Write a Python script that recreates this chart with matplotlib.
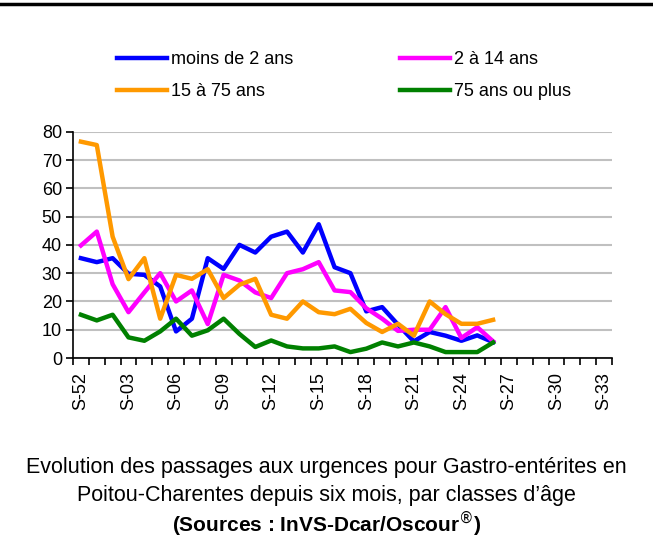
import numpy as np
import matplotlib.pyplot as plt
from matplotlib.lines import Line2D

# weeks S-52, S-01 ... S-33
weeks = [52] + list(range(1, 34))
week_labels = ["S-%02d" % w for w in weeks]

moins_2 = [35.3, 33.9, 35.3, 29.8, 29.4, 25.3, 9.4, 13.9, 35.3, 31.5, 40, 37.3, 42.9, 44.7,
           37.3, 47.3, 32.1, 30, 16.5, 18, 11.8, 5.9, 9.2, 7.9, 6.1, 8, 5.6]
de_2_14 = [39.8, 44.7, 26.1, 16.2, 23.2, 30, 20, 23.9, 12, 29.4, 27.4, 23.2, 21.2, 30,
           31.4, 33.9, 23.9, 23.3, 17.6, 13.9, 9.6, 10, 10, 18, 7.1, 10.9, 5.9]
de_15_75 = [76.5, 75.3, 42.9, 27.9, 35.3, 13.9, 29.4, 28, 31.4, 21.2, 25.9, 28, 15.3, 13.9,
            20, 16.2, 15.5, 17.4, 12.4, 9.2, 12.1, 7.9, 20, 15.5, 12.1, 12.1, 13.5]
plus_75 = [15.3, 13.3, 15.3, 7.3, 6.1, 9.4, 13.9, 7.9, 9.8, 13.9, 8.5, 3.9, 6.2, 4.1,
           3.4, 3.4, 4.1, 2.1, 3.3, 5.5, 4.1, 5.5, 4.1, 2.1, 2.1, 2.1, 5.5]

series = [
    ("moins de 2 ans", moins_2, "#0000FF"),
    ("2 à 14 ans", de_2_14, "#FF00FF"),
    ("15 à 75 ans", de_15_75, "#FF9900"),
    ("75 ans ou plus", plus_75, "#008000"),
]

plt.rcParams['font.family'] = ['Liberation Sans', 'DejaVu Sans']

fig = plt.figure(figsize=(6.53, 5.40), dpi=100)
ax = fig.add_axes([0.1118, 0.337, 0.8254, 0.419])

handles = {}
for name, vals, col in series:
    x = np.arange(len(vals))
    h, = ax.plot(x, vals, color=col, lw=3.2, label=name)
    handles[name] = h

ax.set_xlim(-0.5, len(weeks) - 0.5)
ax.set_ylim(0, 80)
ax.set_yticks(range(0, 81, 10))
ax.yaxis.grid(True, color='#c0c0c0', lw=1.5)
ax.set_axisbelow(True)

ax.set_xticks(range(0, len(weeks), 3))
ax.set_xticklabels(week_labels[::3], rotation=90)
ax.set_xticks(np.arange(-0.5, len(weeks)), minor=True)
ax.tick_params(axis='x', which='major', length=0, pad=10, labelsize=13)
ax.tick_params(axis='x', which='minor', length=5, width=1.2, direction='out')
ax.tick_params(axis='y', length=5, width=1.2, labelsize=13, pad=3)

for s in ['top', 'right']:
    ax.spines[s].set_visible(False)
for s in ['left', 'bottom']:
    ax.spines[s].set_linewidth(1.2)

order = ["moins de 2 ans", "15 à 75 ans", "2 à 14 ans", "75 ans ou plus"]
fig.legend([handles[n] for n in order], order, ncol=2, loc='upper left',
           bbox_to_anchor=(0.179, 0.905), frameon=False, fontsize=13,
           handlelength=2.8, handletextpad=0.2, columnspacing=5.9,
           labelspacing=0.82, borderpad=0, borderaxespad=0)

fig.add_artist(Line2D([0, 1], [0.992, 0.992], color='black', lw=2.5,
                      transform=fig.transFigure))

fig.text(0.5, 1 - 468 / 540, "Evolution des passages aux urgences pour Gastro-entérites en",
         ha='center', va='center', fontsize=15.5)
fig.text(0.5, 1 - 496 / 540, "Poitou-Charentes depuis six mois, par classes d\u2019âge",
         ha='center', va='center', fontsize=15.5)
fig.text(0.5, 1 - 524 / 540, "(Sources : InVS-Dcar/Oscour$^{\\circledR}$)", ha='center',
         va='center', fontsize=15, fontweight='bold')

fig.savefig("out.png", dpi=100)
